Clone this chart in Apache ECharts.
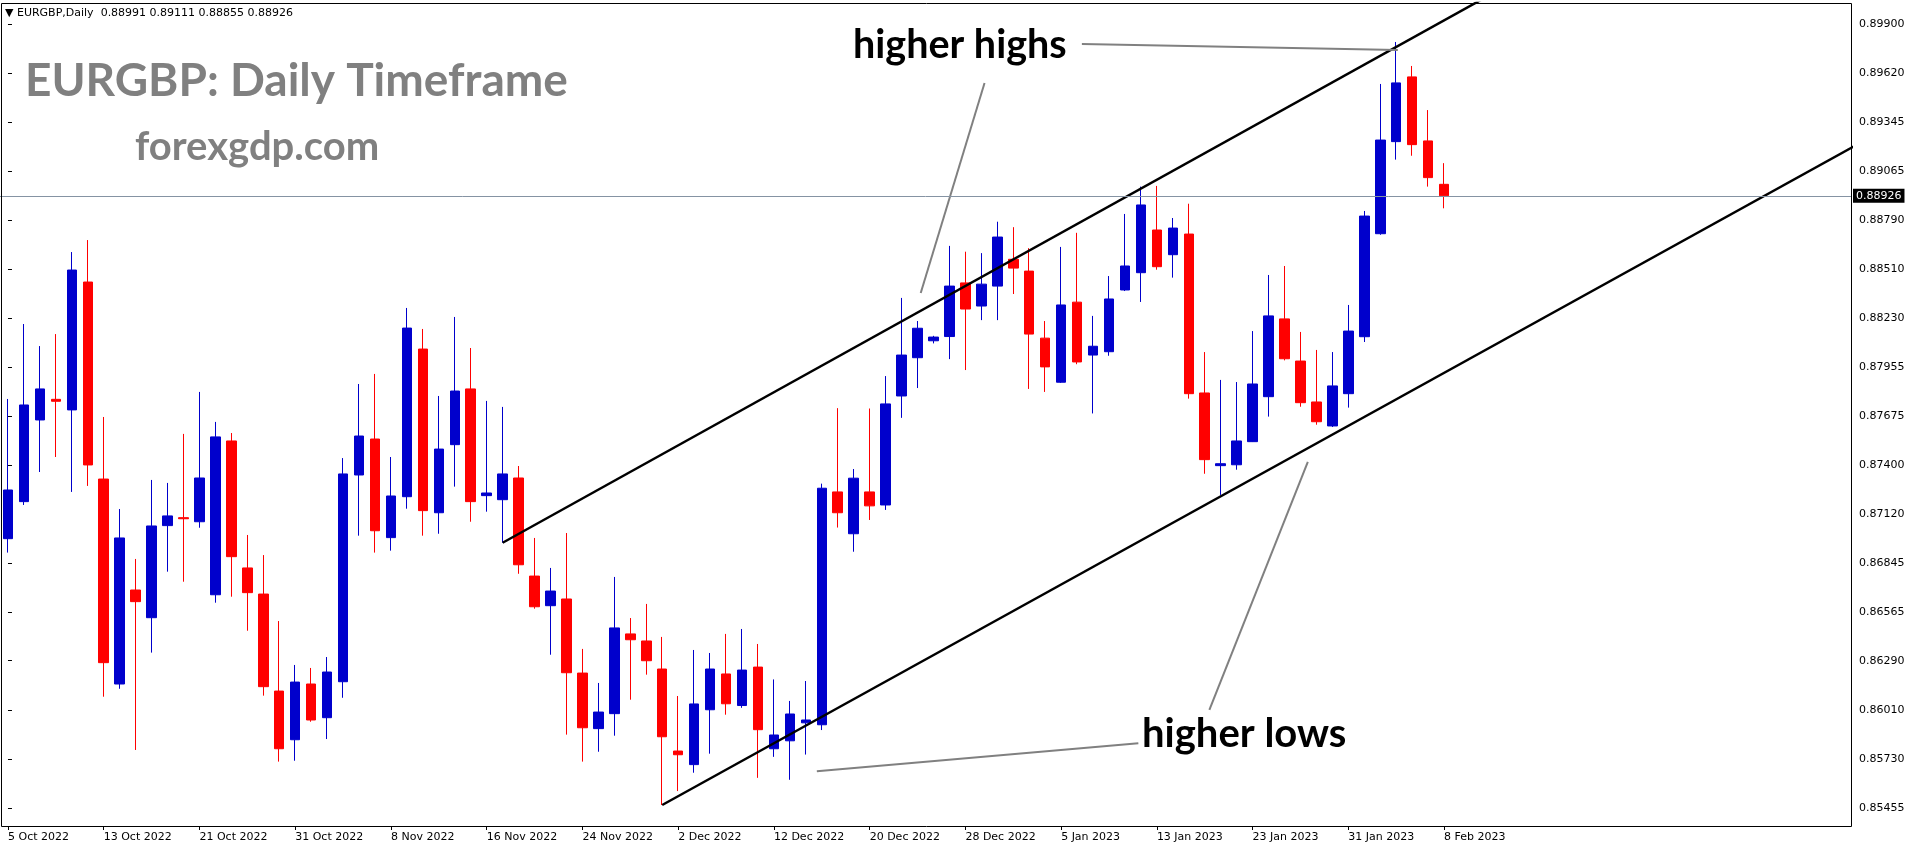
<!DOCTYPE html>
<html>
<head>
<meta charset="utf-8">
<script src="https://cdn.jsdelivr.net/npm/echarts@6/dist/echarts.min.js"></script>
<style>
html,body{margin:0;padding:0;background:#fff;}
#chart{width:1916px;height:850px;}
</style>
</head>
<body>
<div id="chart"></div>
<script>
// ---- categories (daily bars) ----
const dates = [
'5 Oct 2022','6 Oct 2022','7 Oct 2022','10 Oct 2022','11 Oct 2022','12 Oct 2022','13 Oct 2022','14 Oct 2022','17 Oct 2022','18 Oct 2022','19 Oct 2022','20 Oct 2022','21 Oct 2022','24 Oct 2022','25 Oct 2022','26 Oct 2022','27 Oct 2022','28 Oct 2022','31 Oct 2022',
'1 Nov 2022','2 Nov 2022','3 Nov 2022','4 Nov 2022','7 Nov 2022','8 Nov 2022','9 Nov 2022','10 Nov 2022','11 Nov 2022','14 Nov 2022','15 Nov 2022','16 Nov 2022','17 Nov 2022','18 Nov 2022','21 Nov 2022','22 Nov 2022','23 Nov 2022','24 Nov 2022','25 Nov 2022','28 Nov 2022','29 Nov 2022','30 Nov 2022',
'1 Dec 2022','2 Dec 2022','5 Dec 2022','6 Dec 2022','7 Dec 2022','8 Dec 2022','9 Dec 2022','12 Dec 2022','13 Dec 2022','14 Dec 2022','15 Dec 2022','16 Dec 2022','19 Dec 2022','20 Dec 2022','21 Dec 2022','22 Dec 2022','23 Dec 2022','26 Dec 2022','27 Dec 2022','28 Dec 2022','29 Dec 2022','30 Dec 2022',
'2 Jan 2023','3 Jan 2023','4 Jan 2023','5 Jan 2023','6 Jan 2023','9 Jan 2023','10 Jan 2023','11 Jan 2023','12 Jan 2023','13 Jan 2023','16 Jan 2023','17 Jan 2023','18 Jan 2023','19 Jan 2023','20 Jan 2023','23 Jan 2023','24 Jan 2023','25 Jan 2023','26 Jan 2023','27 Jan 2023','30 Jan 2023','31 Jan 2023',
'1 Feb 2023','2 Feb 2023','3 Feb 2023','6 Feb 2023','7 Feb 2023','8 Feb 2023'
];
const emptySlots = 25;      // empty space to the right of the last bar
const labelStep = 6;        // a date label every 6 bars

// ---- OHLC values ----
const opens = [
0.86982,0.87192,0.87655,0.87772,0.87712,0.88437,0.87320,0.86158,0.86691,0.86534,
0.87056,0.87101,0.87078,0.86664,0.87536,0.86816,0.86668,0.86118,0.85842,0.86158,
0.85967,0.86171,0.87343,0.87547,0.86988,0.87220,0.88057,0.87129,0.87515,0.87831,
0.87226,0.87203,0.87326,0.86770,0.86602,0.86640,0.86220,0.85905,0.85990,0.86442,
0.86402,0.86243,0.85778,0.85701,0.86012,0.86215,0.86036,0.86254,0.85791,0.85836,
0.85938,0.85927,0.87247,0.87010,0.87247,0.87173,0.87791,0.88008,0.88104,0.88128,
0.88432,0.88301,0.88414,0.88566,0.88499,0.88119,0.87869,0.88323,0.88023,0.88042,
0.88392,0.88490,0.88732,0.88592,0.88709,0.87808,0.87396,0.87401,0.87532,0.87787,
0.88228,0.87989,0.87757,0.87621,0.87804,0.88127,0.88711,0.89233,0.89600,0.89237,
0.88991
];
const closes = [
0.87258,0.87740,0.87831,0.87761,0.88505,0.87400,0.86279,0.86986,0.86625,0.87054,
0.87111,0.87095,0.87326,0.87559,0.86880,0.86676,0.86143,0.85791,0.86169,0.85954,
0.86226,0.87349,0.87564,0.87027,0.87224,0.88176,0.87141,0.87490,0.87819,0.87192,
0.87241,0.87349,0.86834,0.86596,0.86685,0.86222,0.85910,0.85999,0.86476,0.86409,
0.86290,0.85859,0.85757,0.86045,0.86243,0.86046,0.86237,0.85899,0.85869,0.85988,
0.85954,0.87268,0.87129,0.87325,0.87168,0.87746,0.88023,0.88175,0.88125,0.88414,
0.88284,0.88425,0.88692,0.88516,0.88142,0.87956,0.88307,0.87984,0.88073,0.88341,
0.88528,0.88874,0.88524,0.88743,0.87804,0.87430,0.87407,0.87536,0.87859,0.88245,
0.88002,0.87753,0.87645,0.87848,0.88159,0.88811,0.89242,0.89566,0.89216,0.89029,
0.88926
];
const lows = [
0.86903,0.87173,0.87360,0.87445,0.87247,0.87281,0.86086,0.86131,0.85784,0.86336,
0.86795,0.86738,0.87044,0.86619,0.86653,0.86460,0.86092,0.85718,0.85723,0.85944,
0.85846,0.86080,0.86999,0.86903,0.86914,0.87152,0.86999,0.87010,0.87277,0.87078,
0.87135,0.86959,0.86783,0.86585,0.86324,0.85871,0.85718,0.85774,0.85865,0.86069,
0.86211,0.85472,0.85551,0.85655,0.85763,0.85984,0.86023,0.85626,0.85745,0.85615,
0.85758,0.85897,0.87045,0.86908,0.87088,0.87145,0.87667,0.87836,0.88089,0.88000,
0.87938,0.88221,0.88221,0.88369,0.87831,0.87814,0.87865,0.87971,0.87692,0.88019,
0.88386,0.88324,0.88507,0.88462,0.87776,0.87350,0.87230,0.87373,0.87530,0.87674,
0.87993,0.87730,0.87628,0.87615,0.87725,0.88097,0.88705,0.89131,0.89153,0.88978,
0.88855
];
const highs = [
0.87774,0.88199,0.88074,0.88142,0.88607,0.88675,0.87672,0.87150,0.86867,0.87315,
0.87298,0.87576,0.87814,0.87644,0.87581,0.87003,0.86889,0.86515,0.86266,0.86249,
0.86311,0.87439,0.87859,0.87916,0.87445,0.88290,0.88171,0.87791,0.88239,0.88063,
0.87763,0.87729,0.87394,0.86986,0.86816,0.87014,0.86357,0.86164,0.86765,0.86532,
0.86612,0.86425,0.86090,0.86351,0.86334,0.86442,0.86470,0.86385,0.86184,0.86062,
0.86175,0.87294,0.87722,0.87377,0.87720,0.87904,0.88347,0.88216,0.88132,0.88642,
0.88609,0.88601,0.88779,0.88748,0.88629,0.88216,0.88636,0.88716,0.88245,0.88471,
0.88823,0.88978,0.88982,0.88800,0.88881,0.88040,0.87882,0.87870,0.88159,0.88477,
0.88528,0.88154,0.88052,0.88040,0.88307,0.88840,0.89560,0.89798,0.89662,0.89412,
0.89111
];

// ---- price axis ----
const priceMin = 0.85353;
const priceMax = 0.90019;
const priceTicks = [0.85455,0.85730,0.86010,0.86290,0.86565,0.86845,0.87120,0.87400,0.87675,
                    0.87955,0.88230,0.88510,0.88790,0.89065,0.89345,0.89620,0.89900];

// ---- drawn objects, in [bar index, price] ----
const upperChannel = [[31, 0.86959], [118, 0.91326]];
const lowerChannel = [[41, 0.85472], [118, 0.89322]];
const highsPointerA = [[67.3, 0.89787], [87.1, 0.89753]];
const highsPointerB = [[61.2, 0.89565], [57.2, 0.88375]];
const lowsPointerA = [[70.84, 0.85822], [50.69, 0.85663]];
const lowsPointerB = [[75.29, 0.86011], [81.46, 0.87418]];

// ---- texts ----
const symbolName = 'EURGBP';
const titleText = 'EURGBP: Daily Timeframe';
const siteText = 'forexgdp.com';
const highsText = 'higher highs';
const lowsText = 'higher lows';

// ---- build ----
const categories = dates.concat(Array.from({length: emptySlots}, (_, k) => '_pad' + k));
const candles = dates.map((d, i) => [opens[i], closes[i], lows[i], highs[i]]);
const last = dates.length - 1;
const lastClose = closes[last];
const headerText = '\u25BC ' + symbolName + ',Daily  ' + opens[last].toFixed(5) + ' ' +
  highs[last].toFixed(5) + ' ' + lows[last].toFixed(5) + ' ' + lastClose.toFixed(5);
const nSlots = categories.length;
const showLabel = (idx) => idx % labelStep === 0 && idx < dates.length;

const axisFont = 'DejaVu Sans';
const lineSeries = (data, color, width, extra) => Object.assign({
  type: 'line', xAxisIndex: 1, yAxisIndex: 0, data: data, symbol: 'none',
  lineStyle: {color: color, width: width}, silent: true, clip: true, z: 3,
  animation: false
}, extra || {});

const priceLine = {
  markLine: {
    silent: true, symbol: ['none', 'none'], animation: false, precision: 5,
    lineStyle: {color: '#8593a3', width: 1, type: 'solid'},
    label: {position: 'end', formatter: () => lastClose.toFixed(5), backgroundColor: '#000', color: '#fff',
            fontFamily: axisFont, fontSize: 11, padding: [2, 3, 1, 3], distance: 2},
    data: [{yAxis: lastClose}]
  }
};

const chart = echarts.init(document.getElementById('chart'), null, {renderer: 'canvas'});
chart.setOption({
  animation: false,
  backgroundColor: '#ffffff',
  grid: {left: -5, right: 65, top: 3, bottom: 24, containLabel: false},
  xAxis: [
    {
      type: 'category', data: categories, boundaryGap: true,
      axisLine: {show: false},
      axisTick: {show: true, interval: showLabel, alignWithLabel: true, length: 4, lineStyle: {color: '#000'}},
      axisLabel: {interval: showLabel, align: 'left', margin: 6, color: '#000', fontFamily: axisFont, fontSize: 11},
      splitLine: {show: false}
    },
    {type: 'value', min: -0.5, max: nSlots - 0.5, show: false}
  ],
  yAxis: {
    type: 'value', position: 'right', min: priceMin, max: priceMax, scale: true,
    axisLine: {show: false},
    splitLine: {show: false},
    axisTick: {show: true, customValues: priceTicks, length: 4, lineStyle: {color: '#000'}},
    axisLabel: {customValues: priceTicks, formatter: v => v.toFixed(5), margin: 8,
                color: '#000', fontFamily: axisFont, fontSize: 11}
  },
  series: [
    {
      type: 'candlestick', xAxisIndex: 0, yAxisIndex: 0, data: candles,
      barWidth: 10, silent: true,
      itemStyle: {color: '#0000cc', color0: '#ff0000', borderColor: '#0000cc', borderColor0: '#ff0000', borderWidth: 1}
    },
    lineSeries(upperChannel, '#000', 2.5, priceLine),
    lineSeries(lowerChannel, '#000', 2.5),
    lineSeries(highsPointerA, '#808080', 2),
    lineSeries(highsPointerB, '#808080', 2),
    lineSeries(lowsPointerA, '#808080', 2),
    lineSeries(lowsPointerB, '#808080', 2)
  ],
  graphic: [
    {type: 'rect', silent: true, z: 100, shape: {x: 1.5, y: 3.5, width: 1850, height: 823},
     style: {fill: null, stroke: '#000', lineWidth: 1}},
    {type: 'text', silent: true, x: 5, y: 13, style: {text: headerText, font: '11px "DejaVu Sans"', fill: '#000', verticalAlign: 'middle'}},
    {type: 'text', silent: true, x: 25, y: 81, style: {text: titleText, font: 'bold 46px Lato', fill: '#808080', verticalAlign: 'middle'}},
    {type: 'text', silent: true, x: 135, y: 147.5, style: {text: siteText, font: 'bold 40px Lato', fill: '#808080', verticalAlign: 'middle'}},
    {type: 'text', silent: true, x: 853, y: 45.5, style: {text: highsText, font: 'bold 39.5px Lato', fill: '#000', verticalAlign: 'middle'}},
    {type: 'text', silent: true, x: 1142, y: 734.5, style: {text: lowsText, font: 'bold 40px Lato', fill: '#000', verticalAlign: 'middle'}}
  ]
});
</script>
</body>
</html>
